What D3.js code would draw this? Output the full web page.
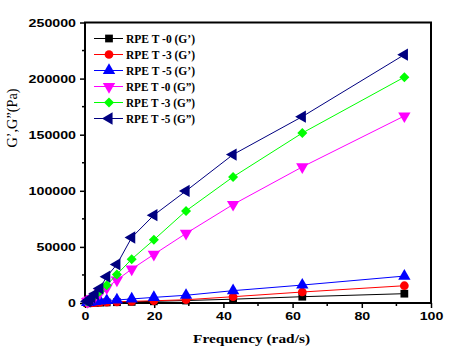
<!DOCTYPE html>
<html>
<head>
<meta charset="utf-8">
<script src="https://cdn.jsdelivr.net/npm/d3@7"></script>
<style>
  html, body { margin: 0; padding: 0; background: #fff; }
  svg { display: block; }
</style>
</head>
<body>
<svg id="chart" width="460" height="358"></svg>
<script>
// ---- Data ----
const frequency = [0.628, 0.924, 1.354, 1.99, 2.92, 4.28, 6.28, 9.22, 13.5, 19.9, 29.2, 42.8, 62.8, 92.3];
const seriesNames = ["RPE T -0 (G\u2019)", "RPE T -3 (G\u2019)", "RPE T -5 (G\u2019)", "RPE T -0 (G\u201D)", "RPE T -3 (G\u201D)", "RPE T -5 (G\u201D)"];
const rpet0G1 = [50, 80, 120, 170, 250, 350, 500, 700, 1000, 1500, 2200, 3400, 5600, 8300];
const rpet3G1 = [60, 90, 130, 200, 300, 450, 700, 1000, 1500, 2000, 2900, 5600, 9800, 15400];
const rpet5G1 = [400, 600, 800, 1100, 1400, 1800, 2200, 2700, 3600, 5000, 6900, 11000, 16000, 24000];
const rpet0G2 = [1200, 1800, 2700, 4000, 6000, 9000, 13500, 20500, 30200, 43300, 62000, 87800, 121300, 166700];
const rpet3G2 = [1300, 2000, 3000, 4600, 7000, 10500, 15900, 25500, 39100, 56300, 82100, 112400, 151500, 201300];
const rpet5G2 = [1400, 2100, 3200, 5000, 8000, 13000, 23500, 34400, 58400, 78300, 99900, 132300, 166100, 221300];
const xTicks = [0, 20, 40, 60, 80, 100];
const yTicks = [0, 50000, 100000, 150000, 200000, 250000];

const seriesValues = [rpet0G1, rpet3G1, rpet5G1, rpet0G2, rpet3G2, rpet5G2];
const colors = ["#000000", "#ff0000", "#0000ff", "#ff00ff", "#00ff00", "#000080"];
const shapes = [
  {type: d3.symbolSquare, size: 60, rot: 0},
  {type: d3.symbolCircle, size: 60, rot: 0},
  {type: d3.symbolTriangle, size: 66, rot: 0},
  {type: d3.symbolTriangle, size: 66, rot: 180},
  {type: d3.symbolSquare, size: 50, rot: 45},
  {type: d3.symbolTriangle, size: 66, rot: -90}
];

// ---- Layout ----
const svg = d3.select("#chart");
const L = 85, R = 431, T = 22.5, B = 303;
const x = d3.scaleLinear().domain([0, 100]).range([L, R]);
const y = d3.scaleLinear().domain([0, 250000]).range([B, T]);

// Axes
const xAxis = d3.axisBottom(x).tickValues(xTicks).tickSize(5).tickFormat(d3.format("d"));
const yAxis = d3.axisLeft(y).tickValues(yTicks).tickSize(5).tickFormat(d3.format("d"));

const gx = svg.append("g").attr("transform", `translate(0,${B})`).call(xAxis);
const gy = svg.append("g").attr("transform", `translate(${L},0)`).call(yAxis);

// minor ticks
const xMinor = d3.range(10, 100, 20);
const yMinor = d3.range(25000, 250000, 50000);
svg.append("g").selectAll("line").data(xMinor).join("line")
  .attr("x1", d => x(d)).attr("x2", d => x(d)).attr("y1", B).attr("y2", B + 3)
  .attr("stroke", "#000").attr("stroke-width", 1.5);
svg.append("g").selectAll("line").data(yMinor).join("line")
  .attr("x1", L - 3).attr("x2", L).attr("y1", d => y(d)).attr("y2", d => y(d))
  .attr("stroke", "#000").attr("stroke-width", 1.5);

[gx, gy].forEach(g => {
  g.select(".domain").remove();
  g.selectAll(".tick line").attr("stroke", "#000").attr("stroke-width", 1.5);
  g.selectAll(".tick text")
    .attr("fill", "#000")
    .style("font-family", "'Liberation Sans', Arial, sans-serif")
    .style("font-weight", "bold")
    .style("font-size", "11.5px")
    .attr("lengthAdjust", "spacingAndGlyphs")
    .attr("textLength", function() { return this.textContent.length * 7.9; });
});
gx.selectAll(".tick text").attr("y", 9);
gy.selectAll(".tick text").attr("x", -9);

// frame
svg.append("rect").attr("x", L).attr("y", T).attr("width", R - L).attr("height", B - T)
  .attr("fill", "none").attr("stroke", "#000").attr("stroke-width", 2);

const line = d3.line().x(d => x(d[0])).y(d => y(d[1]));
const plot = svg.append("g");

seriesValues.forEach((vals, i) => {
  const pts = frequency.map((f, j) => [f, vals[j]]);
  plot.append("path").datum(pts).attr("d", line)
    .attr("fill", "none").attr("stroke", colors[i]).attr("stroke-width", 1);
  const sym = d3.symbol().type(shapes[i].type).size(shapes[i].size);
  plot.append("g").selectAll("path").data(pts).join("path")
    .attr("d", sym)
    .attr("transform", d => `translate(${x(d[0])},${y(d[1])}) rotate(${shapes[i].rot})`)
    .attr("fill", colors[i]);
});

// Legend
const lg = svg.append("g");
const legY0 = 38.5, legStep = 16;
seriesNames.forEach((name, i) => {
  const yy = legY0 + i * legStep;
  lg.append("line").attr("x1", 94).attr("x2", 123).attr("y1", yy).attr("y2", yy)
    .attr("stroke", colors[i]).attr("stroke-width", 1);
  lg.append("path").attr("d", d3.symbol().type(shapes[i].type).size(shapes[i].size)())
    .attr("transform", `translate(109,${yy}) rotate(${shapes[i].rot})`)
    .attr("fill", colors[i]);
  lg.append("text").attr("x", 126).attr("y", yy + 4)
    .text(name)
    .style("font-family", "'Liberation Serif', 'Times New Roman', serif")
    .style("font-weight", "bold")
    .style("font-size", "12px")
    .attr("lengthAdjust", "spacingAndGlyphs")
    .attr("textLength", 69)
    .attr("fill", "#000");
});

// Axis titles
svg.append("text").attr("x", 251.5).attr("y", 343).attr("text-anchor", "middle")
  .text("Frequency (rad/s)")
  .style("font-family", "'Liberation Serif', 'Times New Roman', serif")
  .style("font-weight", "bold")
  .style("font-size", "13px")
  .attr("lengthAdjust", "spacingAndGlyphs")
  .attr("textLength", 117)
  .attr("fill", "#000");

svg.append("text")
  .attr("transform", "translate(17,118) rotate(-90)")
  .attr("text-anchor", "middle")
  .text("G\u2019,G\u201D(Pa)")
  .style("font-family", "'Liberation Serif', 'Times New Roman', serif")
  .style("font-size", "14px")
  .attr("lengthAdjust", "spacingAndGlyphs")
  .attr("textLength", 59)
  .attr("fill", "#000");
</script>
</body>
</html>
